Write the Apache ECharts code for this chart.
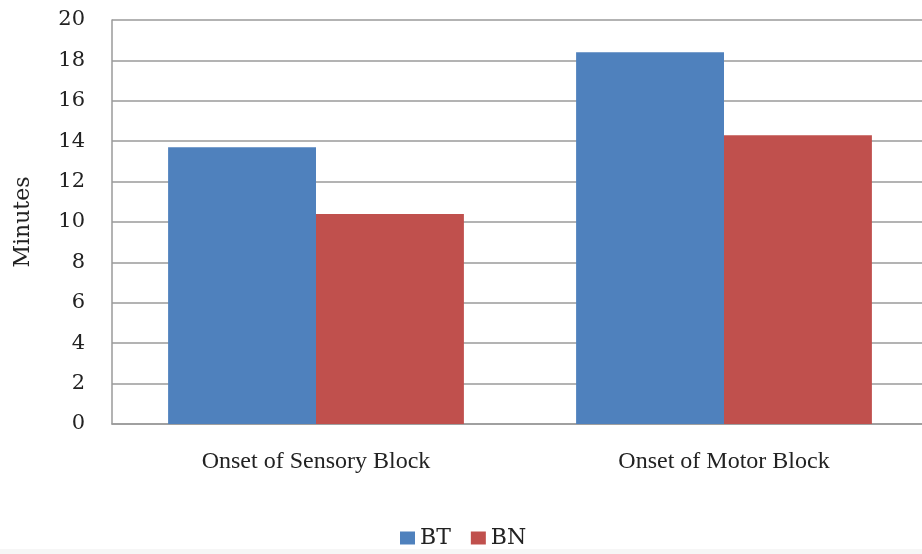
<!DOCTYPE html>
<html>
<head>
<meta charset="utf-8">
<script src="https://cdn.jsdelivr.net/npm/echarts@6/dist/echarts.min.js"></script>
<style>
  html, body { margin: 0; padding: 0; background: #ffffff; overflow: hidden; }
  #wrap { width: 922px; height: 554px; overflow: hidden; position: relative; }
  /* the canvas is a little wider than the page so the plot area runs off the right edge */
  #chart { width: 930px; height: 554px; }
</style>
</head>
<body>
<div id="wrap"><div id="chart"></div></div>
<script>
// Onset times (minutes) for the two groups
const categories = ['Onset of Sensory Block', 'Onset of Motor Block'];
const seriesNames = ['BT', 'BN'];
const btValues = [13.7, 18.4];
const bnValues = [10.4, 14.3];
const yTicks = { min: 0, max: 20, interval: 2 };

const chart = echarts.init(document.getElementById('chart'), null, { renderer: 'canvas' });

const gridColor = '#9a9a9a';

chart.setOption({
  animation: false,
  backgroundColor: '#ffffff',
  grid: { left: 112, right: 2, top: 20, bottom: 130 },
  graphic: [
    {
      type: 'rect',
      left: 0,
      bottom: 0,
      shape: { width: 930, height: 5 },
      style: { fill: '#f6f6f6' },
      silent: true
    }
  ],
  legend: {
    data: seriesNames,
    top: 527,
    left: 400,
    padding: 0,
    itemWidth: 15,
    itemHeight: 13,
    itemGap: 20,
    icon: 'rect',
    textStyle: { fontFamily: 'DejaVu Serif', fontSize: 22, color: '#222' }
  },
  xAxis: {
    type: 'category',
    data: categories,
    axisLine: { show: true, lineStyle: { color: gridColor, width: 1.5 } },
    axisTick: { show: false },
    axisLabel: {
      margin: 26,
      fontFamily: 'Liberation Serif',
      fontSize: 24,
      color: '#222'
    }
  },
  yAxis: {
    type: 'value',
    min: yTicks.min,
    max: yTicks.max,
    interval: yTicks.interval,
    name: 'Minutes',
    nameLocation: 'middle',
    nameGap: 78,
    nameTextStyle: { fontFamily: 'DejaVu Serif', fontSize: 22, color: '#222' },
    axisLine: { show: true, lineStyle: { color: gridColor, width: 1.5 } },
    axisTick: { show: false },
    axisLabel: {
      margin: 27,
      fontFamily: 'DejaVu Serif',
      fontSize: 21,
      color: '#222'
    },
    splitLine: { show: true, lineStyle: { color: gridColor, width: 1.5 } }
  },
  series: [
    {
      name: seriesNames[0],
      type: 'bar',
      data: btValues,
      barGap: '0%',
      barCategoryGap: '27.5%',
      itemStyle: { color: '#4F81BD' }
    },
    {
      name: seriesNames[1],
      type: 'bar',
      data: bnValues,
      barGap: '0%',
      barCategoryGap: '27.5%',
      itemStyle: { color: '#C0504D' }
    }
  ]
});
</script>
</body>
</html>
